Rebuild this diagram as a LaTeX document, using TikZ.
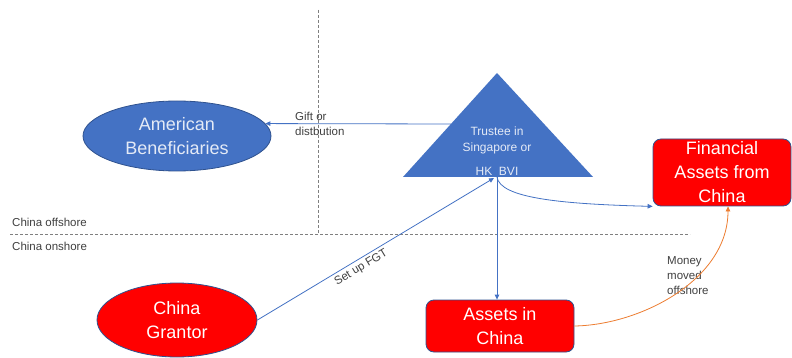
\documentclass[tikz,border=0pt]{standalone}
\usepackage{fontspec}
\setmainfont{Liberation Sans}
\usetikzlibrary{shapes.geometric,arrows.meta,calc}
\definecolor{oblue}{HTML}{4472C4}
\definecolor{dblue}{HTML}{2F528F}
\definecolor{ored}{HTML}{FF0000}
\definecolor{oorange}{HTML}{ED7D31}
\definecolor{lgray}{HTML}{404040}
\definecolor{dgray}{HTML}{7F7F7F}
\definecolor{paletext}{HTML}{E4EAF6}
\begin{document}
\begin{tikzpicture}[x=1pt,y=-1pt,
 bigtext/.style={font=\fontsize{18}{24}\selectfont, text=white, align=center, inner sep=0pt},
 blueell/.style={ellipse, fill=oblue, draw=dblue, line width=0.8pt, bigtext, text=paletext},
 redell/.style={ellipse, fill=ored, draw=dblue, line width=0.8pt, bigtext},
 redbox/.style={rectangle, rounded corners=8pt, fill=ored, draw=dblue, line width=0.8pt, bigtext},
 lblfont/.style={font=\fontsize{11.5}{15}\selectfont, text=lgray, inner sep=0pt},
 lbl/.style={lblfont, align=left},
 conn/.style={draw=oblue, line width=0.8pt, -{Triangle[length=5pt,width=4.5pt]}},
 sepline/.style={draw=dgray, line width=0.8pt, dash pattern=on 3pt off 2pt},
]
\useasboundingbox (0,0) rectangle (792,358);
\fill[white] (0,0) rectangle (792,358);

% separators
\coordinate (vtop) at (318,10);
\coordinate (vbot) at (318,233);
\coordinate (hl) at (10,234);
\coordinate (hr) at (690,234);
\draw[sepline] (vtop) -- (vbot);
\draw[sepline] (hl) -- (hr);

% trustee triangle
\coordinate (tA) at (497,73);
\coordinate (tL) at (403,177);
\coordinate (tR) at (593,177);
\fill[oblue] (tA) -- (tL) -- (tR) -- cycle;
\coordinate (tB) at (497,177);
\coordinate (tB2) at (494,178);
\coordinate (gs) at (451,124);
\node[font=\fontsize{12}{16}\selectfont, text=paletext, align=center, inner sep=0pt, anchor=north] (trustee) at (497,126.5) {Trustee in\\Singapore or\\[8pt]HK\ \ BVI};

% main nodes
\node[blueell, minimum width=188pt, minimum height=70pt] (amer) at (177,136) {American\\Beneficiaries};
\node[redell, minimum width=160pt, minimum height=74pt] (grantor) at (177,320) {China\\Grantor};
\node[redbox, minimum width=138pt, minimum height=67pt] (fin) at (722,172.5) {Financial\\Assets from\\China};
\node[redbox, minimum width=148pt, minimum height=52pt] (assets) at (500,326) {Assets in\\China};

% labels
\node[lbl, anchor=west] (gift) at (295,124) {Gift or\\distbution};
\node[lbl, anchor=west] (off) at (12,222) {China offshore};
\node[lbl, anchor=west] (on) at (12,246) {China onshore};
\node[lbl, anchor=west] (money) at (667,276) {Money\\moved\\offshore};

% connectors
\draw[conn] (gs) -- (amer.8);
\draw[conn] (grantor.east) -- (tB2) node[pos=0.42, sloped, below=3pt, lblfont] (fgt) {Set up FGT};
\draw[conn] (tB) -- (tB |- assets.north);
\draw[conn] (tB) .. controls (500,198) and (560,204) .. (fin.south west);
\coordinate (fe) at ($(fin.south)+(6,0)$);
\draw[conn, draw=oorange] (assets.east) .. controls (640,325) and (728,280) .. (fe);
\end{tikzpicture}
\end{document}
